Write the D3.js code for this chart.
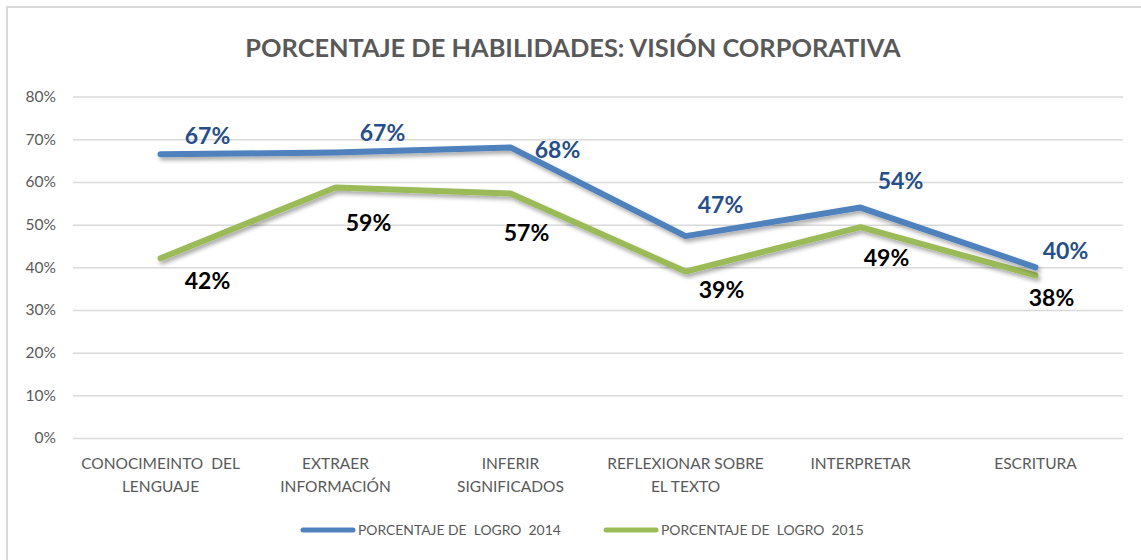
<!DOCTYPE html>
<html><head><meta charset="utf-8">
<script src="https://cdn.jsdelivr.net/npm/d3@7"></script>
<style>
body{margin:0;background:#fff;}
text{white-space:pre;}
</style>
</head><body>
<svg id="chart" width="1141" height="560"></svg>
<script>
const categories = [
  ["CONOCIMEINTO  DEL","LENGUAJE"],
  ["EXTRAER","INFORMACIÓN"],
  ["INFERIR","SIGNIFICADOS"],
  ["REFLEXIONAR SOBRE","EL TEXTO"],
  ["INTERPRETAR"],
  ["ESCRITURA"]
];
const series2014 = [0.665, 0.669, 0.681, 0.473, 0.540, 0.400];
const series2015 = [0.421, 0.587, 0.573, 0.390, 0.494, 0.381];
const labels2014 = ["67%","67%","68%","47%","54%","40%"];
const labels2015 = ["42%","59%","57%","39%","49%","38%"];
const yTicks = [0,0.1,0.2,0.3,0.4,0.5,0.6,0.7,0.8];
const seriesNames = ["PORCENTAJE DE  LOGRO  2014","PORCENTAJE DE  LOGRO  2015"];
const titleText = "PORCENTAJE DE HABILIDADES: VISIÓN CORPORATIVA";

const svg = d3.select("#chart");
const font = "Lato, 'Open Sans', sans-serif";
const pLeft = 73, pRight = 1123, pTop = 96.6, pBottom = 438;

// border
svg.append("rect").attr("x",7).attr("y",7).attr("width",1150).attr("height",570)
  .attr("fill","#fff").attr("stroke","#D9D9D9").attr("stroke-width",2);

const defs = svg.append("defs");
const f = defs.append("filter").attr("id","shadow").attr("x","-10%").attr("y","-30%").attr("width","120%").attr("height","160%");
f.append("feGaussianBlur").attr("in","SourceAlpha").attr("stdDeviation",2).attr("result","b");
f.append("feOffset").attr("in","b").attr("dx",2).attr("dy",3).attr("result","o");
f.append("feComponentTransfer").attr("in","o").attr("result","o2")
  .append("feFuncA").attr("type","linear").attr("slope",0.35);
const m = f.append("feMerge");
m.append("feMergeNode").attr("in","o2");
m.append("feMergeNode").attr("in","SourceGraphic");

const x = d3.scaleBand().domain(d3.range(categories.length)).range([pLeft,pRight]).padding(0);
const y = d3.scaleLinear().domain([0,0.8]).range([pBottom,pTop]);
const cx = i => x(i) + x.bandwidth()/2;

// title
svg.append("text").attr("x",573).attr("y",57).attr("text-anchor","middle")
  .attr("font-family",font).attr("font-weight","bold").attr("font-size",25.4)
  .attr("fill","#595959").text(titleText);

// grid
const yAxis = d3.axisLeft(y).tickValues(yTicks).tickFormat(d3.format(".0%")).tickSize(-(pRight-pLeft)).tickPadding(17);
const ga = svg.append("g").attr("transform",`translate(${pLeft},0)`).call(yAxis);
ga.select(".domain").remove();
ga.selectAll(".tick line").attr("stroke","#D9D9D9").attr("stroke-width",1.5);
ga.selectAll(".tick text").attr("font-family",font).attr("font-size",15.5).attr("fill","#595959");

// x labels
const xl = svg.append("g");
categories.forEach((c,i)=>{
  const t = xl.append("text").attr("text-anchor","middle").attr("font-family",font)
    .attr("font-size",15.5).attr("fill","#595959");
  c.forEach((line,j)=>{
    t.append("tspan").attr("x",cx(i)).attr("y",469 + j*23).text(line);
  });
});

// lines
const line = d3.line().x((d,i)=>cx(i)).y(d=>y(d));
svg.append("path").datum(series2015).attr("d",line).attr("fill","none")
  .attr("stroke","#9BBB59").attr("stroke-width",6).attr("stroke-linecap","round").attr("stroke-linejoin","round").attr("filter","url(#shadow)");
svg.append("path").datum(series2014).attr("d",line).attr("fill","none")
  .attr("stroke","#4F81BD").attr("stroke-width",6).attr("stroke-linecap","round").attr("stroke-linejoin","round").attr("filter","url(#shadow)");

// data labels (manual offsets like the original)
const off2014 = [[47,-18],[47,-20],[47,2],[35,-31],[40,-27],[30,-17]];
const off2015 = [[47,22],[33,35],[16,39],[36,18],[26,31],[16,22]];
function addLabels(vals, labs, offs, color){
  svg.append("g").selectAll("text").data(vals).join("text")
    .attr("x",(d,i)=>cx(i)+offs[i][0]).attr("y",(d,i)=>y(d)+offs[i][1])
    .attr("dy","0.36em")
    .attr("text-anchor","middle").attr("font-family",font).attr("font-weight","bold")
    .attr("font-size",23).attr("fill",color).text((d,i)=>labs[i]);
}
addLabels(series2014, labels2014, off2014, "#254E8A");
addLabels(series2015, labels2015, off2015, "#000000");

// legend
const leg = [[303,"#4F81BD"],[606,"#9BBB59"]];
leg.forEach((l,i)=>{
  svg.append("line").attr("x1",l[0]).attr("x2",l[0]+50).attr("y1",530).attr("y2",530)
    .attr("stroke",l[1]).attr("stroke-width",5).attr("stroke-linecap","round");
  svg.append("text").attr("x",l[0]+55).attr("y",535).attr("font-family",font)
    .attr("font-size",13.9).attr("fill","#595959").text(seriesNames[i]);
});
</script>
</body></html>
